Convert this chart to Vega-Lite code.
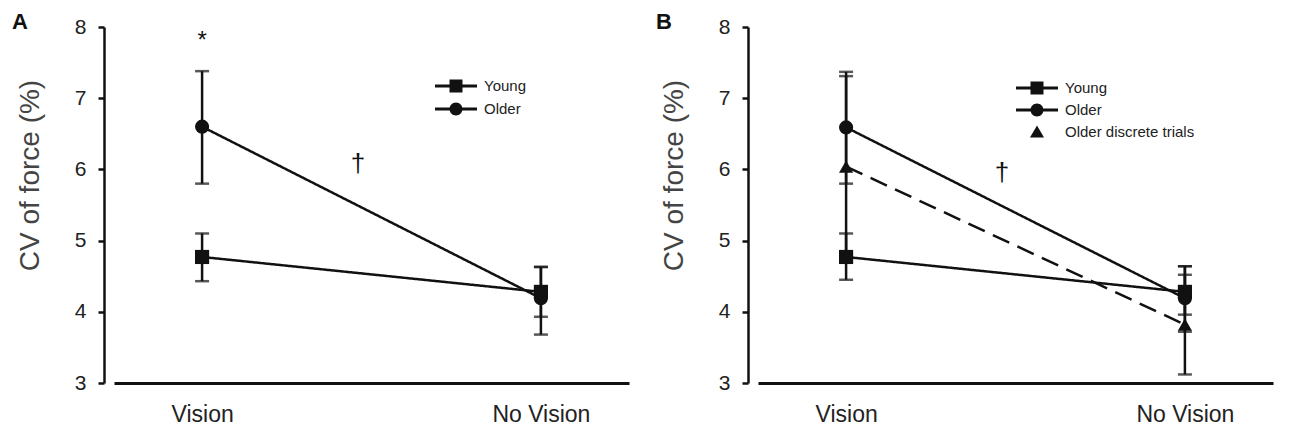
{
  "$schema": "https://vega.github.io/schema/vega-lite/v6.json",
  "background": "white",
  "padding": {"left": 12, "top": 11, "right": 10, "bottom": 5},
  "spacing": 27,
  "config": {
    "font": "Liberation Sans",
    "view": {"stroke": null},
    "axis": {"grid": false, "domainColor": "#111", "tickColor": "#111", "labelColor": "#222", "labelFont": "Liberation Sans", "titleFont": "Liberation Sans"},
    "title": {"anchor": "start", "frame": "group", "fontSize": 22, "fontWeight": "bold", "color": "#111", "offset": 0, "dx": -102, "dy": 22}
  },
  "datasets": {
    "panelA": [
      {"group": "Young", "cond": "Vision", "mean": 4.77, "lo": 4.43, "hi": 5.10},
      {"group": "Young", "cond": "No Vision", "mean": 4.28, "lo": 3.93, "hi": 4.63},
      {"group": "Older", "cond": "Vision", "mean": 6.60, "lo": 5.80, "hi": 7.38},
      {"group": "Older", "cond": "No Vision", "mean": 4.19, "lo": 3.68, "hi": 4.63}
    ],
    "panelB": [
      {"group": "Young", "cond": "Vision", "mean": 4.77, "lo": 4.45, "hi": 5.10},
      {"group": "Young", "cond": "No Vision", "mean": 4.28, "lo": 3.96, "hi": 4.64},
      {"group": "Older", "cond": "Vision", "mean": 6.59, "lo": 5.80, "hi": 7.37},
      {"group": "Older", "cond": "No Vision", "mean": 4.19, "lo": 3.72, "hi": 4.64},
      {"group": "Older discrete trials", "cond": "Vision", "mean": 6.04, "lo": 4.77, "hi": 7.31},
      {"group": "Older discrete trials", "cond": "No Vision", "mean": 3.82, "lo": 3.12, "hi": 4.52}
    ]
  },
  "hconcat": [
    {
      "title": {"text": "A"},
      "width": 515,
      "height": 356,
      "data": {"name": "panelA"},
      "encoding": {
        "x": {"field": "cond", "type": "nominal", "sort": ["Vision", "No Vision"],
          "scale": {"type": "point", "domain": ["Vision", "No Vision"], "padding": 0.26},
          "axis": {"title": null, "ticks": false, "domainWidth": 3, "labelFontSize": 23, "labelPadding": 20, "labelAngle": 0}},
        "y": {"type": "quantitative",
          "scale": {"domain": [3, 8], "nice": false, "zero": false},
          "axis": {"title": "CV of force (%)", "values": [3, 4, 5, 6, 7, 8], "offset": 10, "domainWidth": 2.5, "tickWidth": 2.5, "tickSize": 6, "labelFontSize": 21, "labelPadding": 12, "titleFontSize": 28, "titleFontWeight": "normal", "titleColor": "#444", "titlePadding": 30, "titleY": 148}}
      },
      "layer": [
        {"mark": {"type": "line", "color": "#111", "strokeWidth": 2.5},
          "encoding": {"y": {"field": "mean"},
            "strokeDash": {"field": "group", "type": "nominal", "scale": {"domain": ["Young", "Older", "Older discrete trials"], "range": [[1, 0], [1, 0], [18, 9]]}, "legend": null}}},
        {"mark": {"type": "rule", "color": "#111", "strokeWidth": 2.5},
          "encoding": {"y": {"field": "lo"}, "y2": {"field": "hi"}}},
        {"mark": {"type": "tick", "color": "#111", "size": 14, "thickness": 2.5, "orient": "horizontal"},
          "encoding": {"y": {"field": "lo"}}},
        {"mark": {"type": "tick", "color": "#111", "size": 14, "thickness": 2.5, "orient": "horizontal"},
          "encoding": {"y": {"field": "hi"}}},
        {"mark": {"type": "point", "filled": true, "color": "#111", "opacity": 1, "size": 200},
          "encoding": {"y": {"field": "mean"},
            "shape": {"field": "group", "type": "nominal", "scale": {"domain": ["Young", "Older", "Older discrete trials"], "range": ["square", "circle", "triangle-up"]}, "legend": null}}},
        {"mark": {"type": "point", "filled": true, "color": "#111", "opacity": 0, "size": 484},
          "encoding": {"y": {"field": "mean"},
            "shape": {"field": "group", "type": "nominal",
              "scale": {"domain": ["Young", "Older"], "range": [
                "M-1.91,-0.14H-0.59V-0.59H0.59V-0.14H1.91V0.14H0.59V0.59H-0.59V0.14H-1.91Z",
                "M-1.91,-0.14H1.91V0.14H-1.91Z M-0.59,0A0.59,0.59 0 1 1 0.59,0A0.59,0.59 0 1 1 -0.59,0Z"]},
              "legend": {"title": null, "orient": "none", "legendX": 331, "legendY": 48, "symbolSize": 484, "symbolOpacity": 1, "symbolFillColor": "#111", "symbolStrokeWidth": 0, "labelFontSize": 15, "labelColor": "#222", "labelOffset": 17, "rowPadding": 4}}}},
        {"data": {"values": [{"cond": "Vision", "pos": 7.8, "label": "*"}]},
          "mark": {"type": "text", "fontSize": 24, "color": "#111", "baseline": "middle"},
          "encoding": {"y": {"field": "pos"}, "text": {"field": "label"}}},
        {"data": {"values": [{"cond": "Vision", "pos": 6.07, "label": "†"}]},
          "mark": {"type": "text", "fontSize": 26, "color": "#111", "baseline": "middle", "dx": 156},
          "encoding": {"y": {"field": "pos"}, "text": {"field": "label"}}}
      ],
      "resolve": {"scale": {"shape": "independent"}}
    },
    {
      "title": {"text": "B"},
      "width": 515,
      "height": 356,
      "data": {"name": "panelB"},
      "encoding": {
        "x": {"field": "cond", "type": "nominal", "sort": ["Vision", "No Vision"],
          "scale": {"type": "point", "domain": ["Vision", "No Vision"], "padding": 0.26},
          "axis": {"title": null, "ticks": false, "domainWidth": 3, "labelFontSize": 23, "labelPadding": 20, "labelAngle": 0}},
        "y": {"type": "quantitative",
          "scale": {"domain": [3, 8], "nice": false, "zero": false},
          "axis": {"title": "CV of force (%)", "values": [3, 4, 5, 6, 7, 8], "offset": 10, "domainWidth": 2.5, "tickWidth": 2.5, "tickSize": 6, "labelFontSize": 21, "labelPadding": 12, "titleFontSize": 28, "titleFontWeight": "normal", "titleColor": "#444", "titlePadding": 30, "titleY": 148}}
      },
      "layer": [
        {"mark": {"type": "line", "color": "#111", "strokeWidth": 2.5},
          "encoding": {"y": {"field": "mean"},
            "strokeDash": {"field": "group", "type": "nominal", "scale": {"domain": ["Young", "Older", "Older discrete trials"], "range": [[1, 0], [1, 0], [18, 9]]}, "legend": null}}},
        {"mark": {"type": "rule", "color": "#111", "strokeWidth": 2.5},
          "encoding": {"y": {"field": "lo"}, "y2": {"field": "hi"}}},
        {"mark": {"type": "tick", "color": "#111", "size": 14, "thickness": 2.5, "orient": "horizontal"},
          "encoding": {"y": {"field": "lo"}}},
        {"mark": {"type": "tick", "color": "#111", "size": 14, "thickness": 2.5, "orient": "horizontal"},
          "encoding": {"y": {"field": "hi"}}},
        {"mark": {"type": "point", "filled": true, "color": "#111", "opacity": 1, "size": 200},
          "encoding": {"y": {"field": "mean"},
            "shape": {"field": "group", "type": "nominal", "scale": {"domain": ["Young", "Older", "Older discrete trials"], "range": ["square", "circle", "triangle-up"]}, "legend": null}}},
        {"mark": {"type": "point", "filled": true, "color": "#111", "opacity": 0, "size": 484},
          "encoding": {"y": {"field": "mean"},
            "shape": {"field": "group", "type": "nominal",
              "scale": {"domain": ["Young", "Older", "Older discrete trials"], "range": [
                "M-1.91,-0.14H-0.59V-0.59H0.59V-0.14H1.91V0.14H0.59V0.59H-0.59V0.14H-1.91Z",
                "M-1.91,-0.14H1.91V0.14H-1.91Z M-0.59,0A0.59,0.59 0 1 1 0.59,0A0.59,0.59 0 1 1 -0.59,0Z",
                "M0,-0.6L0.64,0.5H-0.64Z"]},
              "legend": {"title": null, "orient": "none", "legendX": 268, "legendY": 50, "symbolSize": 484, "symbolOpacity": 1, "symbolFillColor": "#111", "symbolStrokeWidth": 0, "labelFontSize": 15, "labelColor": "#222", "labelOffset": 17, "rowPadding": 3}}}},
        {"data": {"values": [{"cond": "Vision", "pos": 5.95, "label": "†"}]},
          "mark": {"type": "text", "fontSize": 26, "color": "#111", "baseline": "middle", "dx": 156},
          "encoding": {"y": {"field": "pos"}, "text": {"field": "label"}}}
      ],
      "resolve": {"scale": {"shape": "independent"}}
    }
  ]
}
